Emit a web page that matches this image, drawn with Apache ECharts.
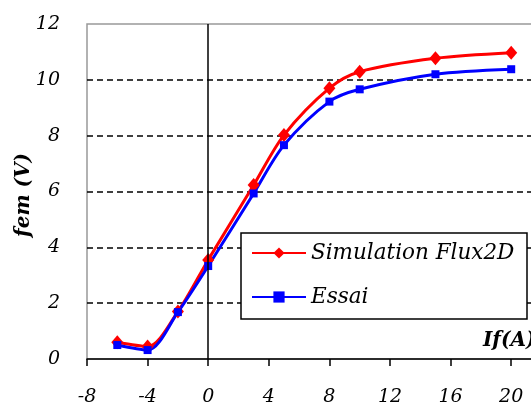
<!DOCTYPE html>
<html>
<head>
<meta charset="utf-8">
<script src="https://cdn.jsdelivr.net/npm/echarts@6/dist/echarts.min.js"></script>
<style>html,body{margin:0;padding:0;background:#fff;}#c{width:531px;height:408px;}</style>
</head>
<body>
<div id="c"></div>
<script>
var simX = [-6, -4, -2, 0, 3, 5, 8, 10, 15, 20];
var simY = [0.6, 0.45, 1.7, 3.55, 6.23, 8.02, 9.7, 10.29, 10.77, 10.97];
var essaiX = [-6, -4, -2, 0, 3, 5, 8, 10, 15, 20];
var essaiY = [0.5, 0.32, 1.68, 3.33, 5.93, 7.66, 9.22, 9.66, 10.2, 10.38];
var xTicks = [-8, -4, 0, 4, 8, 12, 16, 20];
var yTicks = [0, 2, 4, 6, 8, 10, 12];
var seriesNames = ['Simulation Flux2D', 'Essai'];
var xTitle = 'If(A)';
var yTitle = 'fem (V)';

function pairs(xs, ys) { return xs.map(function (x, i) { return [x, ys[i]]; }); }

var font = 'DejaVu Serif';
var chart = echarts.init(document.getElementById('c'));
chart.setOption({
  backgroundColor: '#ffffff',
  animation: false,
  grid: { left: 87, top: 24, width: 454.5, height: 335, outerBoundsMode: 'none', containLabel: false,
    show: true, borderColor: '#999', borderWidth: 1.5, backgroundColor: 'transparent' },
  xAxis: {
    type: 'value', min: -8, max: 22, interval: 4,
    axisLine: { onZero: false, lineStyle: { color: '#000', width: 1.5 } },
    axisTick: { show: true, length: 7, lineStyle: { color: '#000', width: 1.5 } },
    axisLabel: { margin: 29, color: '#000', fontFamily: font, fontStyle: 'italic', fontSize: 19,
      formatter: function (v) { return xTicks.indexOf(v) >= 0 ? String(v) : ''; } },
    splitLine: { show: false }
  },
  yAxis: {
    type: 'value', min: 0, max: 12, interval: 2,
    axisLine: { show: false },
    axisTick: { show: false },
    axisLabel: { margin: 27, color: '#000', fontFamily: font, fontStyle: 'italic', fontSize: 19,
      formatter: function (v) { return yTicks.indexOf(v) >= 0 ? String(v) : ''; } },
    splitLine: { show: true, showMinLine: false, showMaxLine: false, lineStyle: { color: '#000', type: [6, 4], width: 1.5 } }
  },
  legend: {
    orient: 'vertical', left: 241, top: 233,
    padding: [7, 9, 9, 10],
    itemGap: 18, itemWidth: 54, itemHeight: 14,
    backgroundColor: '#fff', borderColor: '#000', borderWidth: 1.5, borderRadius: 0,
    textStyle: { fontFamily: font, fontStyle: 'italic', fontSize: 21.5, color: '#000', lineHeight: 26, width: 207 },
    data: seriesNames
  },
  graphic: [
    { type: 'text', x: 24, y: 195, rotation: Math.PI / 2,
      style: { text: yTitle, fontFamily: font, fontStyle: 'italic', fontWeight: 'bold', fontSize: 20, fill: '#000', align: 'center', verticalAlign: 'middle' } },
    { type: 'text', x: 483, y: 341,
      style: { text: xTitle, fontFamily: font, fontStyle: 'italic', fontWeight: 'bold', fontSize: 20, fill: '#000', align: 'left', verticalAlign: 'middle' } }
  ],
  series: [
    { name: seriesNames[0], type: 'line', data: pairs(simX, simY), smooth: 0.3,
      symbol: 'diamond', symbolSize: [12, 14], showAllSymbol: true,
      lineStyle: { color: '#ff0000', width: 3 }, itemStyle: { color: '#ff0000' },
      markLine: { silent: true, symbol: ['none', 'none'], label: { show: false },
        lineStyle: { color: '#000', type: 'solid', width: 1.5 }, data: [{ xAxis: 0 }] } },
    { name: seriesNames[1], type: 'line', data: pairs(essaiX, essaiY), smooth: 0.3,
      symbol: 'rect', symbolSize: 8, showAllSymbol: true,
      lineStyle: { color: '#0000ff', width: 3 }, itemStyle: { color: '#0000ff' } }
  ]
});
</script>
</body>
</html>
